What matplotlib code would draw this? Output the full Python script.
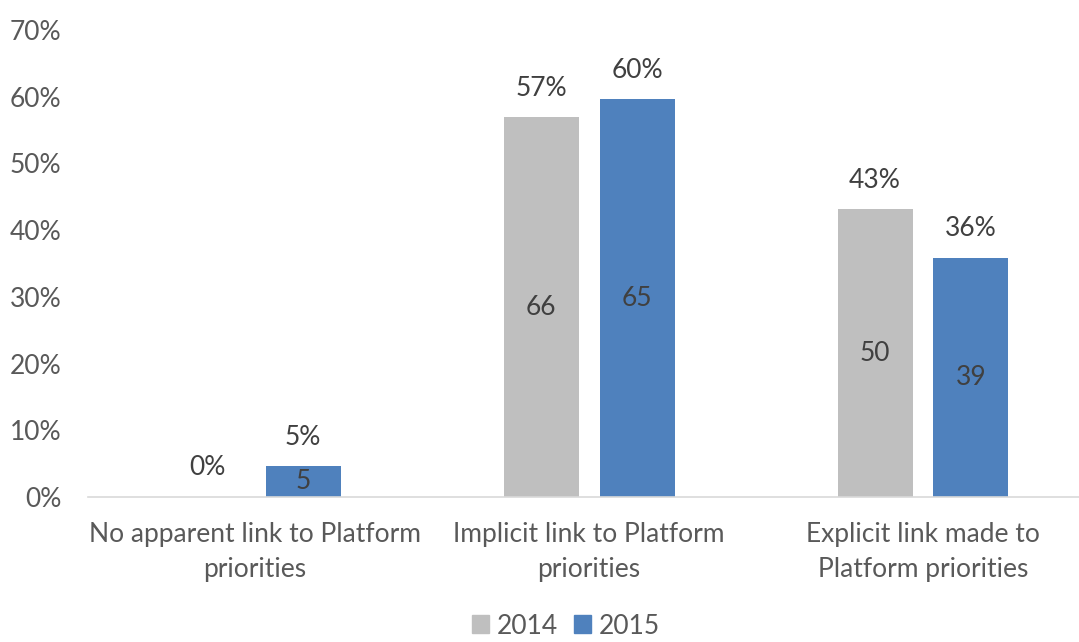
import matplotlib
matplotlib.use("Agg")
import matplotlib.pyplot as plt
from matplotlib.patches import Patch
import numpy as np

categories = ["No apparent link to Platform\npriorities",
              "Implicit link to Platform\npriorities",
              "Explicit link made to\nPlatform priorities"]
years = ["2014", "2015"]
pct_2014 = [0.0, 56.9, 43.1]
pct_2015 = [4.6, 59.6, 35.8]
cnt_2014 = [0, 66, 50]
cnt_2015 = [5, 65, 39]
yticks = [0, 10, 20, 30, 40, 50, 60, 70]

colors = ["#BFBFBF", "#4F81BD"]
plt.rcParams['font.family'] = ['Lato', 'DejaVu Sans']
FS = 19

W, H = 1079, 642
fig = plt.figure(figsize=(W/100, H/100), dpi=100)
ax = fig.add_axes([88/W, (H-497)/H, (1079-88)/W, 467/H])

x = np.arange(len(categories))
bw = 75/334
off = 48/334
series = [(pct_2014, cnt_2014), (pct_2015, cnt_2015)]
for i, (pcts, cnts) in enumerate(series):
    xs = x + (-off if i == 0 else off)
    ax.bar(xs, pcts, width=bw, color=colors[i], zorder=2)
    for xi, p, c in zip(xs, pcts, cnts):
        ax.annotate(f"{p:.0f}%", (xi, p), xytext=(0, 21), textcoords="offset points",
                    ha="center", va="center", fontsize=FS, color="#404040")
        if c > 0:
            ax.text(xi, p/2, f"{c}", ha="center", va="center", fontsize=FS, color="#404040")

ax.set_xlim(-0.5, 2.5 - 11/334)
ax.set_ylim(0, 70)
ax.set_yticks(yticks)
ax.set_yticklabels([f"{t}%" for t in yticks])
ax.set_xticks(x)
ax.set_xticklabels(categories)
for s in ["top", "right", "left"]:
    ax.spines[s].set_visible(False)
ax.spines["bottom"].set_color("#D9D9D9")
ax.spines["bottom"].set_linewidth(1.2)
ax.tick_params(axis="both", length=0, labelsize=FS, colors="#595959")
ax.tick_params(axis="y", pad=19)
ax.tick_params(axis="x", pad=18)
for lab in ax.get_xticklabels():
    lab.set_linespacing(1.5)

handles = [Patch(color=colors[0], label=years[0]), Patch(color=colors[1], label=years[1])]
fig.legend(handles=handles, loc="center", bbox_to_anchor=(566/W, 1-626/H), ncol=2,
           frameon=False, fontsize=FS, handlelength=0.65, handleheight=0.65,
           handletextpad=0.3, columnspacing=0.6, labelcolor="#595959",
           borderpad=0.1)

fig.savefig("out.png", dpi=100)
